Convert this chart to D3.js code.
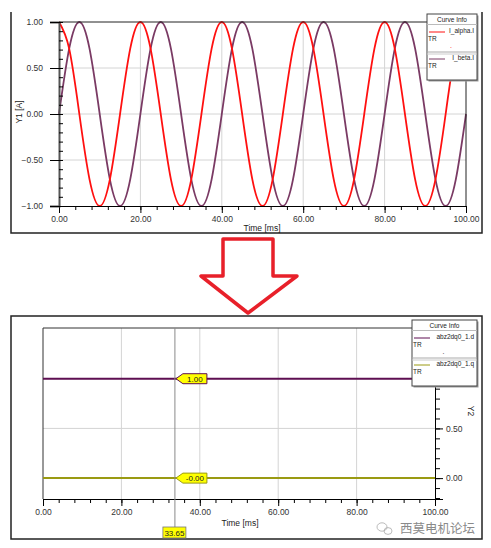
<!DOCTYPE html>
<html>
<head>
<meta charset="utf-8">
<script src="https://cdn.jsdelivr.net/npm/d3@7"></script>
<style>
  body { margin: 0; background: #fff; }
  svg { display: block; font-family: "Liberation Sans", Arial, sans-serif; }
  .tick text { fill: #333; }
</style>
</head>
<body>
<div class="main"></div>
<script>
// time samples (ms) and currents
const tTop = [0, 2.5, 5, 7.5, 10, 12.5, 15, 17.5, 20, 22.5, 25, 27.5, 30, 32.5, 35, 37.5,
    40, 42.5, 45, 47.5, 50, 52.5, 55, 57.5, 60, 62.5, 65, 67.5, 70, 72.5, 75, 77.5,
    80, 82.5, 85, 87.5, 90, 92.5, 95, 97.5, 100];
const iAlpha = [1, 0.71, 0, -0.71, -1, -0.71, 0, 0.71, 1, 0.71, 0, -0.71, -1, -0.71, 0, 0.71,
    1, 0.71, 0, -0.71, -1, -0.71, 0, 0.71, 1, 0.71, 0, -0.71, -1, -0.71, 0, 0.71,
    1, 0.71, 0, -0.71, -1, -0.71, 0, 0.71, 1];
const iBeta = [0, 0.71, 1, 0.71, 0, -0.71, -1, -0.71, 0, 0.71, 1, 0.71, 0, -0.71, -1, -0.71,
    0, 0.71, 1, 0.71, 0, -0.71, -1, -0.71, 0, 0.71, 1, 0.71, 0, -0.71, -1, -0.71,
    0, 0.71, 1, 0.71, 0, -0.71, -1, -0.71, 0];

// lower plot: dq components
const tBot = [0, 100];
const iD = [1, 1];
const iQ = [0, 0];
const cursorT = 33.65;
const cursorLabels = ["1.00", "-0.00"];

const xTicks = [0, 20, 40, 60, 80, 100];
const y1Ticks = [-1, -0.5, 0, 0.5, 1];
const y2Ticks = [0, 0.5, 1];

const w = 491;
const h = 548;
const svg = d3.select(".main").append("svg").attr("width", w).attr("height", h);

const fmt = d3.format(".2f");

// ---------- upper chart ----------
const xTop = d3.scaleLinear().domain([0, 100]).range([59, 466]);
const yTop = d3.scaleLinear().domain([-1, 1]).range([206, 22]);

const gTop = svg.append("g");

// frame
gTop.append("path")
    .attr("d", "M11,12 V233 H482 V12")
    .attr("fill", "none").attr("stroke", "#222").attr("stroke-width", 1.5);

// grid
gTop.selectAll(".vg").data([20, 40, 60, 80]).enter().append("line")
    .attr("x1", d => xTop(d)).attr("x2", d => xTop(d))
    .attr("y1", yTop(1)).attr("y2", yTop(-1))
    .attr("stroke", "#d4d4d4");
gTop.selectAll(".hg").data([-0.5, 0, 0.5]).enter().append("line")
    .attr("x1", xTop(0)).attr("x2", xTop(100))
    .attr("y1", d => yTop(d)).attr("y2", d => yTop(d))
    .attr("stroke", "#d4d4d4");

// curves
const lineTop = d3.line()
    .x((d, i) => xTop(tTop[i]))
    .y(d => yTop(d))
    .curve(d3.curveNatural);

gTop.append("path").datum(iBeta).attr("d", lineTop)
    .attr("fill", "none").attr("stroke", "#7a3a64").attr("stroke-width", 1.8);
gTop.append("path").datum(iAlpha).attr("d", lineTop)
    .attr("fill", "none").attr("stroke", "#ff1010").attr("stroke-width", 1.8);

// plot border top/right
gTop.append("path")
    .attr("d", `M${xTop(0)},${yTop(1)} H${xTop(100)} V${yTop(-1)}`)
    .attr("fill", "none").attr("stroke", "#222").attr("stroke-width", 1);

// axes
const xAxisTop = d3.axisBottom(xTop).tickValues(xTicks).tickFormat(fmt).tickSize(7).tickPadding(3);
gTop.append("g").attr("transform", `translate(0,${yTop(-1)})`).call(xAxisTop)
    .call(g => g.selectAll("text").attr("font-size", 8.5));
gTop.append("g").attr("transform", `translate(0,${yTop(-1)})`)
    .call(d3.axisBottom(xTop).tickValues(d3.range(0, 101, 4)).tickFormat("").tickSize(4))
    .call(g => g.select(".domain").remove());

const yAxisTop = d3.axisLeft(yTop).tickValues(y1Ticks).tickFormat(fmt).tickSize(9).tickPadding(7);
gTop.append("g").attr("transform", `translate(${xTop(0)},0)`).call(yAxisTop)
    .call(g => g.selectAll("text").attr("font-size", 8.5))
    .call(g => g.select(".domain").attr("stroke-width", 2).attr("stroke", "#555"));
gTop.append("g").attr("transform", `translate(${xTop(0)},0)`)
    .call(d3.axisRight(yTop).tickValues(d3.range(-10, 11).map(d => d / 10)).tickFormat("").tickSize(4))
    .call(g => g.select(".domain").remove());

gTop.append("text").text("Time [ms]")
    .attr("x", 262).attr("y", 231).attr("text-anchor", "middle")
    .attr("font-size", 8.5).attr("fill", "#222");
gTop.append("text").text("Y1 [A]")
    .attr("transform", "translate(22,112) rotate(-90)")
    .attr("text-anchor", "middle").attr("font-size", 8.5).attr("fill", "#222");

// ---------- arrow ----------
svg.append("path")
    .attr("d", "M223,239 H273 V276 H297 L248,313 L201,276 H223 Z")
    .attr("fill", "#fff").attr("stroke", "#e8202a").attr("stroke-width", 3.5)
    .attr("stroke-linejoin", "round");

// ---------- lower chart ----------
const xBot = d3.scaleLinear().domain([0, 100]).range([43, 435]);
const yBot = d3.scaleLinear().domain([-0.21, 1.51]).range([499, 328]);

const gBot = svg.append("g");

gBot.append("rect")
    .attr("x", 11).attr("y", 316).attr("width", 471).attr("height", 223)
    .attr("fill", "none").attr("stroke", "#222").attr("stroke-width", 1.5);

gBot.selectAll(".vg").data([20, 40, 60, 80]).enter().append("line")
    .attr("x1", d => xBot(d)).attr("x2", d => xBot(d))
    .attr("y1", yBot(1.51)).attr("y2", yBot(-0.21))
    .attr("stroke", "#d4d4d4");
gBot.selectAll(".hg").data([0.5, 1]).enter().append("line")
    .attr("x1", xBot(0)).attr("x2", xBot(100))
    .attr("y1", d => yBot(d)).attr("y2", d => yBot(d))
    .attr("stroke", "#d4d4d4");

// plot border top/left
gBot.append("path")
    .attr("d", `M${xBot(0)},${yBot(-0.21)} V${yBot(1.51)} H${xBot(100)}`)
    .attr("fill", "none").attr("stroke", "#333").attr("stroke-width", 1);

const lineBot = d3.line().x((d, i) => xBot(tBot[i])).y(d => yBot(d));
gBot.append("path").datum(iD).attr("d", lineBot)
    .attr("fill", "none").attr("stroke", "#5e0f52").attr("stroke-width", 2);
gBot.append("path").datum(iQ).attr("d", lineBot)
    .attr("fill", "none").attr("stroke", "#9a9a12").attr("stroke-width", 2);

// axes
const xAxisBot = d3.axisBottom(xBot).tickValues(xTicks).tickFormat(fmt).tickSize(7).tickPadding(3);
gBot.append("g").attr("transform", `translate(0,${yBot(-0.21)})`).call(xAxisBot)
    .call(g => g.selectAll("text").attr("font-size", 8.5));
gBot.append("g").attr("transform", `translate(0,${yBot(-0.21)})`)
    .call(d3.axisBottom(xBot).tickValues(d3.range(0, 101, 4)).tickFormat("").tickSize(4))
    .call(g => g.select(".domain").remove());

const yAxisBot = d3.axisRight(yBot).tickValues(y2Ticks).tickFormat(fmt).tickSize(8).tickPadding(3);
gBot.append("g").attr("transform", `translate(${xBot(100)},0)`).call(yAxisBot)
    .call(g => g.selectAll("text").attr("font-size", 8.5));
gBot.append("g").attr("transform", `translate(${xBot(100)},0)`)
    .call(d3.axisRight(yBot).tickValues(d3.range(-2, 16).map(d => d / 10)).tickFormat("").tickSize(5))
    .call(g => g.select(".domain").remove());

gBot.append("text").text("Time [ms]")
    .attr("x", 240).attr("y", 526).attr("text-anchor", "middle")
    .attr("font-size", 8.5).attr("fill", "#222");
gBot.append("text").text("Y2")
    .attr("transform", "translate(468,411) rotate(90)")
    .attr("text-anchor", "middle").attr("font-size", 8.5).attr("fill", "#222");

// cursor
const cx = xBot(cursorT);
gBot.append("line")
    .attr("x1", cx).attr("x2", cx).attr("y1", yBot(1.51)).attr("y2", 527)
    .attr("stroke", "#8a8a8a").attr("stroke-width", 1);

gBot.append("rect").attr("x", cx - 12).attr("y", 527).attr("width", 23).attr("height", 11)
    .attr("fill", "#ffff00").attr("stroke", "#777").attr("stroke-width", 0.8);
gBot.append("text").text(fmt(cursorT)).attr("x", cx - 0.5).attr("y", 535.5)
    .attr("text-anchor", "middle").attr("font-size", 8).attr("fill", "#222");

[[iD[0], "#5e0f52", cursorLabels[0]], [iQ[0], "#9a9a12", cursorLabels[1]]].forEach(([v, col, lab]) => {
    const y = yBot(v);
    gBot.append("path")
        .attr("d", `M${cx + 1},${y} L${cx + 8},${y - 5} H${cx + 32} V${y + 5} H${cx + 8} Z`)
        .attr("fill", "#ffff00").attr("stroke", col).attr("stroke-width", 1);
    gBot.append("text").text(lab).attr("x", cx + 20).attr("y", y + 3)
        .attr("text-anchor", "middle").attr("font-size", 8).attr("fill", "#222");
});

// ---------- legends ----------
function legend(x, y, wd, items) {
    const g = svg.append("g").attr("transform", `translate(${x},${y})`);
    g.append("rect").attr("x", 1.5).attr("y", 1.5).attr("width", wd).attr("height", 66)
        .attr("fill", "#999");
    g.append("rect").attr("width", wd).attr("height", 66)
        .attr("fill", "#fff").attr("stroke", "#444").attr("stroke-width", 1);
    g.append("text").text("Curve Info").attr("x", wd / 2).attr("y", 7.5)
        .attr("text-anchor", "middle").attr("font-size", 6.5).attr("fill", "#222");
    g.append("line").attr("x1", 0).attr("x2", wd).attr("y1", 10.5).attr("y2", 10.5)
        .attr("stroke", "#bbb");
    items.forEach((it, i) => {
        const oy = 12 + i * 27;
        g.append("line").attr("x1", 2).attr("x2", 18).attr("y1", oy + 6).attr("y2", oy + 6)
            .attr("stroke", it.color).attr("stroke-width", 1);
        g.append("text").text(it.name).attr("x", wd - 3).attr("y", oy + 7)
            .attr("text-anchor", "end").attr("font-size", 6.5).attr("fill", "#222");
        g.append("text").text("TR").attr("x", 1).attr("y", oy + 15)
            .attr("font-size", 6.5).attr("fill", "#222");
    });
    g.append("text").text(".").attr("x", wd / 2 - 2).attr("y", 34)
        .attr("font-size", 7).attr("fill", items[0].dot);
    g.append("line").attr("x1", 0).attr("x2", wd).attr("y1", 38).attr("y2", 38)
        .attr("stroke", "#aaa");
    g.append("line").attr("x1", 0).attr("x2", wd).attr("y1", 40).attr("y2", 40)
        .attr("stroke", "#ccc");
}

legend(427, 14, 50, [
    { name: "I_alpha.I", color: "#ff1010", dot: "#ff1010" },
    { name: "I_beta.I", color: "#7a3a64" }
]);
legend(412, 320, 65, [
    { name: "abz2dq0_1.d", color: "#5e0f52", dot: "#222" },
    { name: "abz2dq0_1.q", color: "#9a9a12" }
]);

// ---------- watermark ----------
const wm = svg.append("g").attr("fill", "none").attr("stroke", "#aaa").attr("stroke-width", 0.8);
wm.append("ellipse").attr("cx", 382).attr("cy", 527).attr("rx", 5).attr("ry", 4.2);
wm.append("ellipse").attr("cx", 388).attr("cy", 531).attr("rx", 4).attr("ry", 3.4);
svg.append("text").text("西莫电机论坛")
    .attr("x", 400).attr("y", 533)
    .attr("font-family", "'Noto Sans CJK SC', sans-serif")
    .attr("font-size", 12.5).attr("fill", "#8a8a8a");
</script>
</body>
</html>
